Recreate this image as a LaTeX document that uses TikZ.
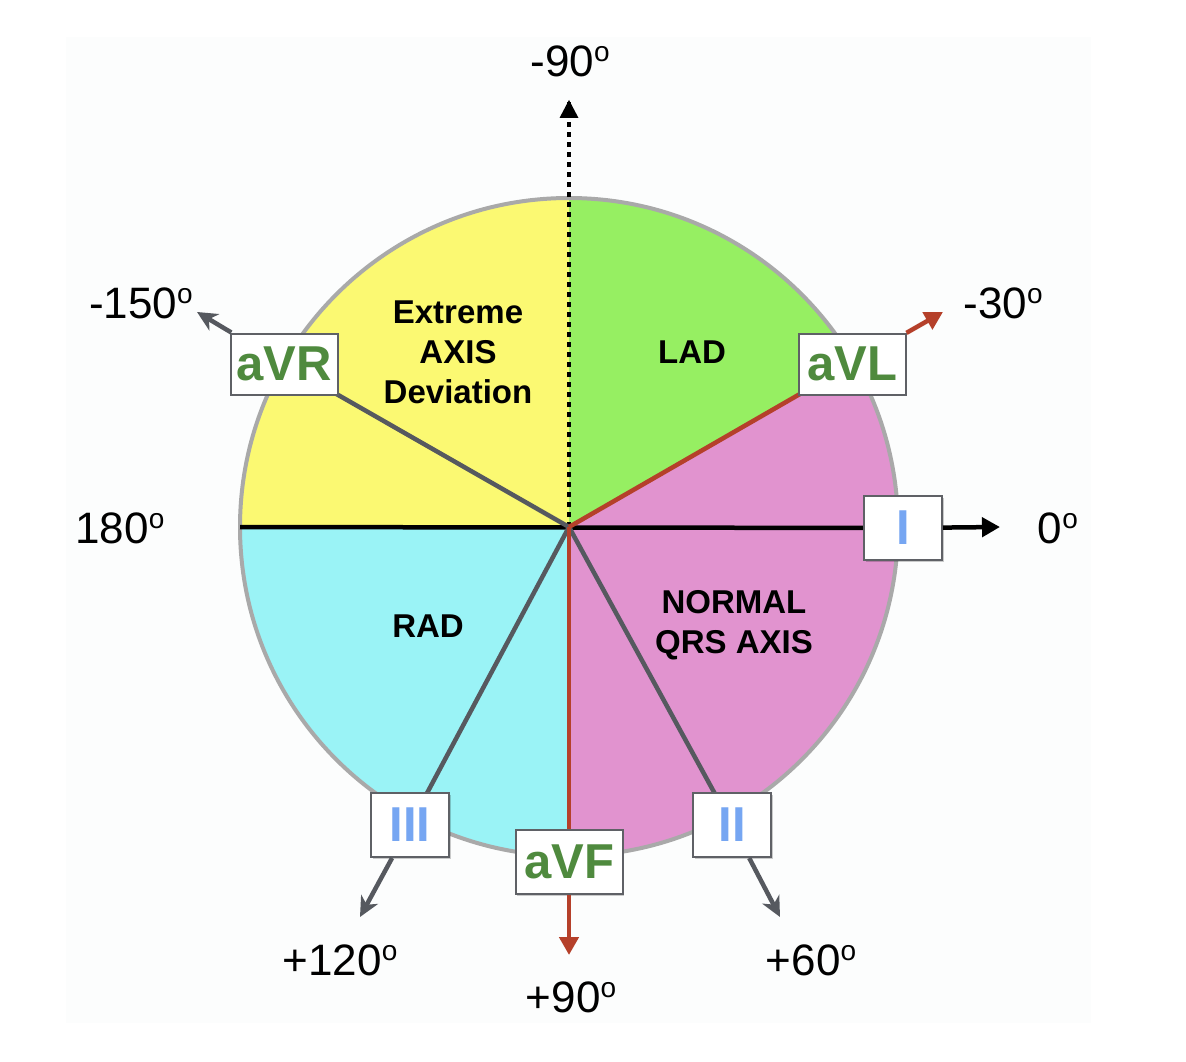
\documentclass[tikz,border=0pt]{standalone}
\usepackage{fontspec}
\setmainfont{Liberation Sans}
\usetikzlibrary{arrows.meta,shadows}
\definecolor{bgc}{HTML}{FCFDFD}
\definecolor{yelc}{HTML}{FBF972}
\definecolor{grnc}{HTML}{96EF62}
\definecolor{pnkc}{HTML}{E193CF}
\definecolor{cyac}{HTML}{9AF3F6}
\definecolor{rimc}{HTML}{A9A9A9}
\definecolor{grayl}{HTML}{56595F}
\definecolor{redl}{HTML}{B5402A}
\definecolor{leadg}{HTML}{4F8A3E}
\definecolor{leadb}{HTML}{76A6F2}
\definecolor{boxd}{HTML}{5F6166}
\newcommand\dgo{\raisebox{15pt}{\fontsize{28}{28}\selectfont o}}
\tikzset{
  degl/.style={anchor=base, inner sep=0pt, font=\fontsize{44}{44}\selectfont},
  secl/.style={align=center, inner sep=0pt, font=\fontsize{33}{40}\selectfont\bfseries},
  leadbox/.style={draw=boxd, line width=2pt, fill=white, inner sep=0pt,
    drop shadow={shadow xshift=1.5pt, shadow yshift=-1.5pt, fill=black, opacity=0.2},
    font=\fontsize{49}{49}\selectfont\bfseries},
  augbox/.style={leadbox, text=leadg, minimum width=107pt, minimum height=61pt},
  limbbox/.style={leadbox, text=leadb, minimum width=78pt, minimum height=64pt},
  grayline/.style={draw=grayl, line width=4.5pt},
  redline/.style={draw=redl, line width=4.5pt},
  blkline/.style={draw=black, line width=4.5pt},
  gtip/.style={-{Stealth[length=20pt,width=19pt,inset=6pt]}},
  ttip/.style={-{Triangle[length=18pt,width=19pt]}}
}
\begin{document}
\begin{tikzpicture}[x=1pt,y=1pt]
\useasboundingbox (0,0) rectangle (1186,-1062);
\fill[bgc] (66,-37) rectangle (1091,-1023);
\coordinate (O) at (569,-527);
% sectors
\fill[yelc] (O) -- ++(90:329) arc[start angle=90,end angle=180,radius=329] -- cycle;
\fill[grnc] (O) -- ++(30:329) arc[start angle=30,end angle=90,radius=329] -- cycle;
\fill[pnkc] (O) -- ++(-90:329) arc[start angle=-90,end angle=30,radius=329] -- cycle;
\fill[cyac] (O) -- ++(180:329) arc[start angle=180,end angle=270,radius=329] -- cycle;
\draw[rimc, line width=4pt] (O) circle[radius=329];
% coordinates
\coordinate (W) at (240,-527);
\coordinate (tTop) at (569,-100);
\coordinate (tI) at (1000,-527);
\coordinate (tVR) at (197,-312);
\coordinate (tVL) at (943,-312);
\coordinate (tII) at (780,-917);
\coordinate (tIII) at (360,-917);
\coordinate (tVF) at (569,-955);
% boxes (positions)
\path (284,-364) coordinate (pVR) (852,-364) coordinate (pVL) (903,-528) coordinate (pI)
      (732,-825) coordinate (pII) (410,-825) coordinate (pIII) (569,-862) coordinate (pVF);
% lead lines under boxes
\draw[blkline, dash pattern=on 5pt off 5pt] (O) -- (tTop);
\fill (tTop) -- ++(-9.5,-18) -- ++(19,0) -- cycle;
\draw[blkline] (W) -- (pI);
\draw[grayline] (O) -- (pVR);
\draw[grayline] (O) -- (pII);
\draw[grayline] (O) -- (pIII);
\draw[redline] (O) -- (pVL);
\draw[redline] (O) -- (pVF);
% boxes
\node[augbox] (bVR) at (pVR) {aVR};
\node[augbox] (bVL) at (pVL) {aVL};
\node[augbox, minimum height=64pt] (bVF) at (pVF) {aVF};
\node[limbbox] (bI) at (pI) {I};
\node[limbbox] (bII) at (pII) {II};
\node[limbbox] (bIII) at (pIII) {III};
% arrows out of boxes
\draw[blkline, ttip] (bI) -- (tI);
\draw[grayline, gtip] (bVR) -- (tVR);
\draw[grayline, gtip] (bII) -- (tII);
\draw[grayline, gtip] (bIII) -- (tIII);
\draw[redline, ttip] (bVL) -- (tVL);
\draw[redline, ttip] (bVF) -- (tVF);
% sector labels
\node[secl] (sExt) at (458,-352) {Extreme\\AXIS\\Deviation};
\node[secl] (sLAD) at (692,-352) {LAD};
\node[secl] (sRAD) at (428,-626) {RAD};
\node[secl] (sNorm) at (734,-625) {NORMAL\\QRS AXIS};
% degree labels
\node[degl] (dM90) at (570,-77) {-90\dgo};
\node[degl] (dM30) at (1003,-318) {-30\dgo};
\node[degl] (dM150) at (141,-318) {-150\dgo};
\node[degl] (d180) at (120,-543) {180\dgo};
\node[degl] (d0) at (1058,-543) {0\dgo};
\node[degl] (dP120) at (340,-975) {+120\dgo};
\node[degl] (dP90) at (571,-1012) {+90\dgo};
\node[degl] (dP60) at (811,-975) {+60\dgo};
\end{tikzpicture}
\end{document}
